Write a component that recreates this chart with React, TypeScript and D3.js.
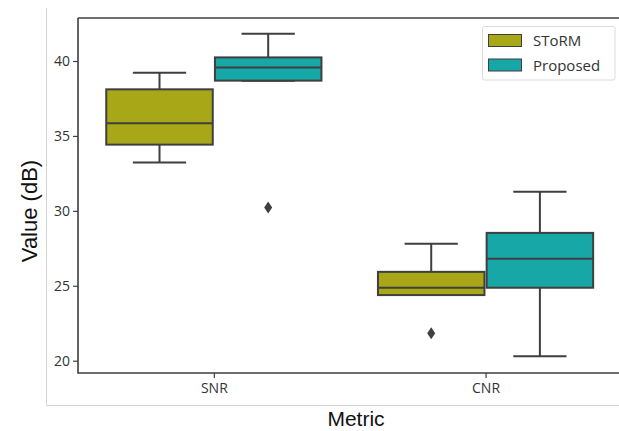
import React, { useEffect, useRef } from 'react';
import * as d3 from 'd3';

const WIDTH = 619;
const HEIGHT = 431;

const metrics = ['SNR', 'CNR'];
const series = ['SToRM', 'Proposed'];
const colors = ['#a7a718', '#18a7a7'];

// five-number summaries per metric: [lowWhisker, q1, median, q3, highWhisker]
const stormStats = [
  [33.22, 34.42, 35.84, 38.11, 39.22],
  [24.38, 24.38, 24.87, 25.93, 27.8],
];
const proposedStats = [
  [38.69, 38.69, 39.56, 40.24, 41.82],
  [20.29, 24.87, 26.8, 28.53, 31.27],
];
const stormOutliers = [[], [21.83]];
const proposedOutliers = [[30.22], []];

const yTicks = [20, 25, 30, 35, 40];

const LINE = '#3f3f3f';
const LW = 2;

export default function App() {
  const ref = useRef<SVGSVGElement>(null);

  useEffect(() => {
    const svg = d3.select(ref.current);
    svg.selectAll('*').remove();

    const left = 78, top = 18, bottom = 373;
    const step = 271.7;
    const x = d3.scaleLinear().domain([-0.5, 1.5]).range([left, left + 2 * step]);
    const y = d3.scaleLinear().domain([19.18, 42.87]).range([bottom, top]);

    // outer frame (left and bottom light lines)
    svg.append('line').attr('x1', 46.5).attr('x2', 46.5).attr('y1', 8).attr('y2', 405.5)
      .attr('stroke', '#d4d4d4').attr('stroke-width', 1);
    svg.append('line').attr('x1', 46.5).attr('x2', WIDTH).attr('y1', 405.5).attr('y2', 405.5)
      .attr('stroke', '#d4d4d4').attr('stroke-width', 1);

    const font = "'Open Sans', 'DejaVu Sans', sans-serif";

    // y axis
    const yAxis = svg.append('g').attr('transform', `translate(${left},0)`)
      .call(d3.axisLeft(y).tickValues(yTicks).tickSize(5).tickPadding(3).tickFormat(d3.format('d')));
    yAxis.select('.domain').remove();
    yAxis.selectAll('line').attr('stroke', LINE).attr('stroke-width', 1.2);
    yAxis.selectAll('text').attr('font-family', font).attr('font-size', 14).attr('fill', '#333');

    // x axis
    const xAxis = svg.append('g').attr('transform', `translate(0,${bottom})`)
      .call(d3.axisBottom(x).tickValues([0, 1]).tickSize(5).tickPadding(5)
        .tickFormat((d) => metrics[d as number]));
    xAxis.select('.domain').remove();
    xAxis.selectAll('line').attr('stroke', LINE).attr('stroke-width', 1.2);
    xAxis.selectAll('text').attr('font-family', font).attr('font-size', 14).attr('fill', '#333');

    // spines
    const x1 = x(1.5);
    svg.append('path')
      .attr('d', `M${left},${top}H${x1}M${left},${top}V${bottom}H${x1}`)
      .attr('fill', 'none').attr('stroke', LINE).attr('stroke-width', 1.6);

    const allStats = [stormStats, proposedStats];
    const allOutliers = [stormOutliers, proposedOutliers];
    const boxW = (x(0.4) - x(0)) * 0.98;

    allStats.forEach((stats, s) => {
      const g = svg.append('g');
      stats.forEach((st, m) => {
        const cx = x(m + (s === 0 ? -0.2 : 0.2));
        const [lo, q1, med, q3, hi] = st;
        // whiskers
        g.append('line').attr('x1', cx).attr('x2', cx).attr('y1', y(q3)).attr('y2', y(hi))
          .attr('stroke', LINE).attr('stroke-width', LW);
        g.append('line').attr('x1', cx).attr('x2', cx).attr('y1', y(q1)).attr('y2', y(lo))
          .attr('stroke', LINE).attr('stroke-width', LW);
        [lo, hi].forEach((v) => {
          g.append('line').attr('x1', cx - boxW / 4).attr('x2', cx + boxW / 4)
            .attr('y1', y(v)).attr('y2', y(v))
            .attr('stroke', LINE).attr('stroke-width', LW);
        });
        g.append('rect').attr('x', cx - boxW / 2).attr('width', boxW)
          .attr('y', y(q3)).attr('height', y(q1) - y(q3))
          .attr('fill', colors[s]).attr('stroke', LINE).attr('stroke-width', LW);
        g.append('line').attr('x1', cx - boxW / 2).attr('x2', cx + boxW / 2)
          .attr('y1', y(med)).attr('y2', y(med))
          .attr('stroke', LINE).attr('stroke-width', LW);
        allOutliers[s][m].forEach((v) => {
          const py = y(v);
          g.append('path')
            .attr('d', `M${cx},${py - 6}L${cx + 4},${py}L${cx},${py + 6}L${cx - 4},${py}Z`)
            .attr('fill', LINE);
        });
      });
    });

    // legend
    const lg = svg.append('g');
    lg.append('rect').attr('x', 482.5).attr('y', 26.5).attr('width', 132.5).attr('height', 53.5)
      .attr('rx', 2).attr('fill', 'white').attr('stroke', '#dcdcdc').attr('stroke-width', 1);
    series.forEach((name, i) => {
      const ly = 34.5 + i * 24.5;
      lg.append('rect').attr('x', 488.5).attr('y', ly).attr('width', 33).attr('height', 12)
        .attr('fill', colors[i]).attr('stroke', LINE).attr('stroke-width', 1);
      lg.append('text').attr('x', 533).attr('y', ly + 11.5)
        .attr('font-family', font).attr('font-size', 15).attr('fill', '#333').text(name);
    });

    // axis labels
    svg.append('text').attr('x', 356).attr('y', 426).attr('text-anchor', 'middle')
      .attr('font-family', "'Liberation Sans', Arial, sans-serif").attr('font-size', 21)
      .attr('fill', '#111').text('Metric');
    svg.append('text').attr('transform', 'translate(37,211) rotate(-90)').attr('text-anchor', 'middle')
      .attr('font-family', "'Liberation Sans', Arial, sans-serif").attr('font-size', 22)
      .attr('fill', '#111').text('Value (dB)');
  }, []);

  return (
    <svg
      ref={ref}
      width={WIDTH}
      height={HEIGHT}
      style={{ position: 'absolute', left: 0, top: 0, background: 'white' }}
    />
  );
}
